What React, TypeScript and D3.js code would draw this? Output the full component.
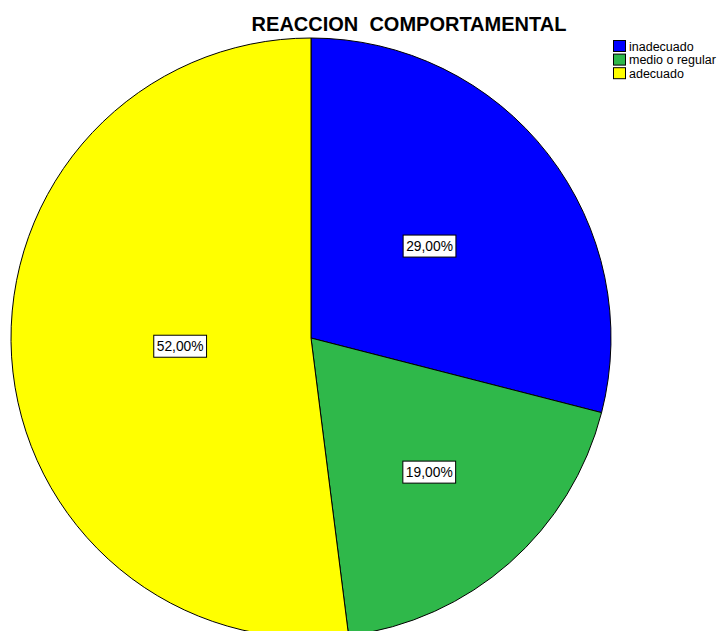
import React, { useEffect, useRef } from "react";
import * as d3 from "d3";

const categories = ["inadecuado", "medio o regular", "adecuado"];
const percentages = [29, 19, 52];
const sliceColors = ["#0000ff", "#2fb84a", "#ffff00"];
const titleText = "REACCION  COMPORTAMENTAL";

// Layout
const W = 727;
const H = 631;
const CX = 311;
const CY = 338;
const R = 300;
// label distance from the centre, as a fraction of the radius, per slice
const labelRadiusFrac = [0.5, 0.596, 0.437];

const fmt = (v: number) => v.toFixed(2).replace(".", ",") + "%";

export default function App() {
  const ref = useRef<SVGSVGElement>(null);

  useEffect(() => {
    document.body.style.margin = "0";
    const svg = d3.select(ref.current);
    svg.selectAll("*").remove();

    const data = categories.map((c, i) => ({ c, v: percentages[i], i }));
    const pie = d3
      .pie<any>()
      .value((d) => d.v)
      .sort(null)
      .startAngle(0)
      .endAngle(2 * Math.PI);
    const arcs = pie(data);
    const arc = d3.arc<any>().innerRadius(0).outerRadius(R);

    const g = svg.append("g").attr("transform", `translate(${CX},${CY})`);
    g.selectAll("path")
      .data(arcs)
      .enter()
      .append("path")
      .attr("d", arc as any)
      .attr("fill", (d: any) => sliceColors[d.data.i])
      .attr("stroke", "#000")
      .attr("stroke-width", 1);

    // value labels
    arcs.forEach((a: any) => {
      const mid = (a.startAngle + a.endAngle) / 2;
      const r = R * labelRadiusFrac[a.data.i];
      const x = Math.sin(mid) * r;
      const y = -Math.cos(mid) * r;
      const lg = g.append("g").attr("transform", `translate(${x},${y})`);
      const t = lg
        .append("text")
        .attr("text-anchor", "middle")
        .attr("dy", "0.36em")
        .attr("font-family", "Liberation Sans, Arial, sans-serif")
        .attr("font-size", 13.8)
        .attr("fill", "#000")
        .text(fmt(a.data.v));
      const bb = (t.node() as SVGTextElement).getBBox();
      lg.insert("rect", "text")
        .attr("x", bb.x - 3)
        .attr("y", -11)
        .attr("width", bb.width + 6)
        .attr("height", 22)
        .attr("fill", "#fff")
        .attr("stroke", "#000")
        .attr("stroke-width", 1);
    });

    // title
    svg
      .append("text")
      .attr("x", 409)
      .attr("y", 31)
      .attr("text-anchor", "middle")
      .attr("font-family", "Liberation Sans, Arial, sans-serif")
      .attr("font-weight", "bold")
      .attr("font-size", 20)
      .attr("fill", "#000")
      .style("white-space", "pre")
      .text(titleText);

    // legend
    const lgd = svg.append("g").attr("transform", "translate(613,40)");
    categories.forEach((c, i) => {
      const row = lgd.append("g").attr("transform", `translate(0,${i * 13.6})`);
      row
        .append("rect")
        .attr("x", 0.5)
        .attr("y", 0.5)
        .attr("width", 12)
        .attr("height", 11)
        .attr("fill", sliceColors[i])
        .attr("stroke", "#000");
      row
        .append("text")
        .attr("x", 16)
        .attr("y", 10.5)
        .attr("font-family", "Liberation Sans, Arial, sans-serif")
        .attr("font-size", 12.5)
        .attr("fill", "#000")
        .text(c);
    });
  }, []);

  return <svg ref={ref} width={W} height={H} style={{ display: "block" }} />;
}
